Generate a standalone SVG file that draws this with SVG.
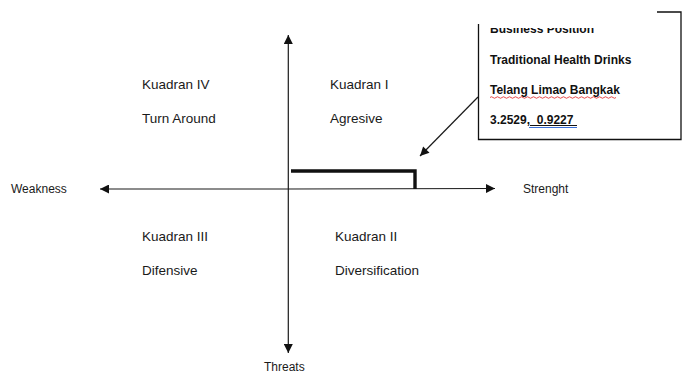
<svg xmlns="http://www.w3.org/2000/svg" width="686" height="373" viewBox="0 0 686 373">
<style>
  .lbl { font-family: "Liberation Sans", Arial, sans-serif; font-size: 13.5px; fill: #1a1a1a; }
  .ax { font-family: "Liberation Sans", Arial, sans-serif; font-size: 12px; fill: #1a1a1a; }
  .bx { font-family: "Liberation Sans", Arial, sans-serif; font-size: 12px; font-weight: bold; fill: #111; }
  .line { stroke: #1a1a1a; stroke-width: 1.2; fill: none; }
</style>
<defs>
  <marker id="ah" viewBox="0 0 10 10" refX="10" refY="5" markerWidth="10" markerHeight="9" markerUnits="userSpaceOnUse" orient="auto">
    <path d="M0,0 L10,5 L0,10 z" fill="#111"/>
  </marker>
  <clipPath id="boxclip"><rect x="478" y="28" width="203" height="112"/></clipPath>
</defs>
<rect width="686" height="373" fill="#fff"/>

<g id="connectors">
  <line class="line" x1="288.3" y1="189" x2="288.3" y2="35" marker-end="url(#ah)"/>
  <line class="line" x1="288.3" y1="189" x2="288.3" y2="353" marker-end="url(#ah)"/>
  <line class="line" x1="288" y1="189" x2="100" y2="189" marker-end="url(#ah)"/>
  <line class="line" x1="288" y1="189" x2="495" y2="188.5" marker-end="url(#ah)"/>
  <line class="line" x1="478" y1="97" x2="420" y2="156" marker-end="url(#ah)"/>
  <path d="M291,171 H415 V189" fill="none" stroke="#111" stroke-width="3.4"/>
</g>

<g id="q4"><text class="lbl" x="142" y="89">Kuadran IV</text><text class="lbl" x="142" y="123">Turn Around</text></g>
<g id="q1"><text class="lbl" x="330" y="89">Kuadran I</text><text class="lbl" x="330" y="123">Agresive</text></g>
<g id="q3"><text class="lbl" x="142" y="241">Kuadran III</text><text class="lbl" x="142" y="275">Difensive</text></g>
<g id="q2"><text class="lbl" x="335" y="241">Kuadran II</text><text class="lbl" x="335" y="275">Diversification</text></g>

<g id="weakness"><text class="ax" x="11" y="193">Weakness</text></g>
<g id="strength"><text class="ax" x="523" y="193" font-size="12.5">Strenght</text></g>
<g id="threats"><text class="ax" x="264" y="371" font-size="12.3">Threats</text></g>

<g id="position-box">
  <path d="M657,12 H681 V139.5 H478.5 V24" fill="none" stroke="#111" stroke-width="1.3"/>
  <text class="bx" x="490" y="33" clip-path="url(#boxclip)">Business Position</text>
  <text class="bx" x="490" y="63.5">Traditional Health Drinks</text>
  <text class="bx" x="490" y="94">Telang Limao Bangkak</text>
  <path d="M490,97.5 q1.5,-1.5 3,0 t3,0 t3,0 t3,0 t3,0 t3,0 t3,0 t3,0 t3,0 t3,0 t3,0 t3,0 t3,0 t3,0 t3,0 t3,0 t3,0 t3,0 t3,0 t3,0 t3,0 t3,0 t3,0 t3,0 t3,0 t3,0 t3,0 t3,0 t3,0 t3,0 t3,0 t3,0 t3,0 t3,0 t3,0 t3,0 t3,0 t3,0 t3,0 t3,0 t3,0 t3,0" fill="none" stroke="#e02020" stroke-width="0.8"/>
  <text class="bx" x="490" y="123.5" xml:space="preserve">3.2529,  0.9227</text>
  <line x1="530" y1="125.5" x2="577" y2="125.5" stroke="#111" stroke-width="1"/>
  <line x1="529" y1="127.5" x2="577" y2="127.5" stroke="#3a6fd8" stroke-width="1"/>
</g>
</svg>
